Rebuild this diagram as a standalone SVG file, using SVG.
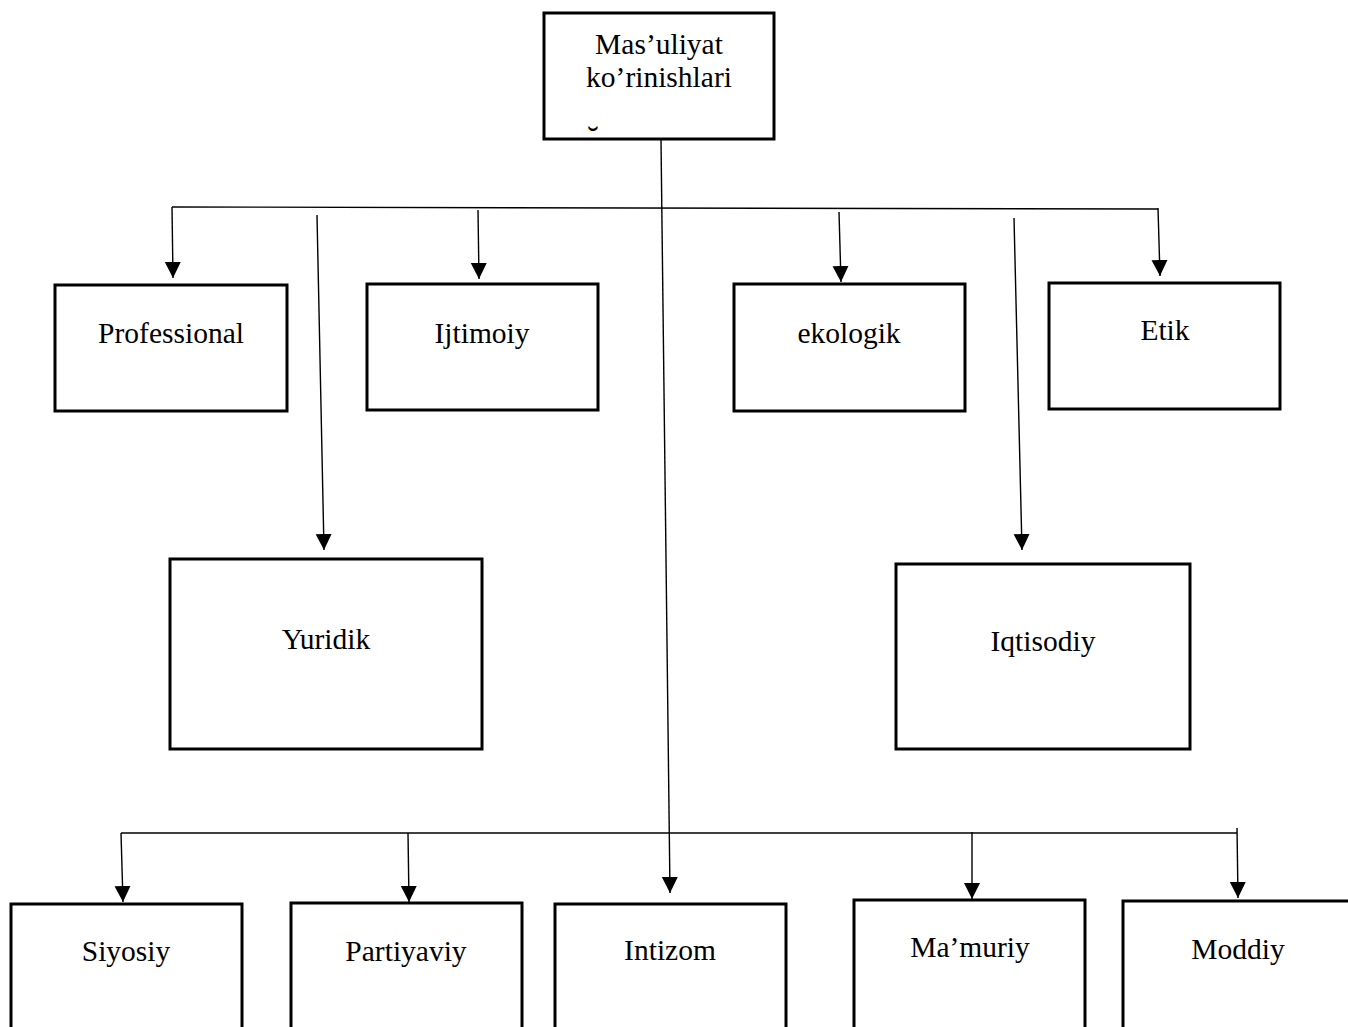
<svg xmlns="http://www.w3.org/2000/svg" width="1348" height="1027" viewBox="0 0 1348 1027">
  <style>
    .box { fill: #ffffff; stroke: #000000; stroke-width: 3; }
    .lbl { font-family: "Liberation Serif", "Times New Roman", serif; font-size: 29.5px; fill: #000000; text-anchor: middle; }
    .ln { fill: none; stroke: #000000; stroke-width: 1.4; }
    .arr { fill: none; stroke: #000000; stroke-width: 1.4; marker-end: url(#head); }
  </style>
  <defs>
    <marker id="head" markerUnits="userSpaceOnUse" markerWidth="18" markerHeight="18" viewBox="0 0 18 18" refX="16" refY="9" orient="auto">
      <path d="M0,1 L16,9 L0,17 Z" fill="#000000"/>
    </marker>
  </defs>

  <rect width="1348" height="1027" fill="#ffffff"/>

  <!-- connectors -->
  <g id="connectors">
    <line class="ln" x1="172" y1="207" x2="1158" y2="209"/>
    <line class="ln" x1="121" y1="833" x2="1237" y2="833"/>
    <line class="arr" x1="661" y1="140" x2="670" y2="893"/>
    <line class="arr" x1="172" y1="207" x2="173" y2="278"/>
    <line class="arr" x1="317" y1="215" x2="324" y2="550"/>
    <line class="arr" x1="478" y1="210" x2="479" y2="279"/>
    <line class="arr" x1="839" y1="212" x2="841" y2="282"/>
    <line class="arr" x1="1014" y1="218" x2="1022" y2="550"/>
    <line class="arr" x1="1158" y1="208" x2="1160" y2="276"/>
    <line class="arr" x1="121" y1="833" x2="123" y2="902"/>
    <line class="arr" x1="408" y1="833" x2="409" y2="902"/>
    <line class="arr" x1="972" y1="832" x2="972" y2="899"/>
    <line class="arr" x1="1237" y1="828" x2="1238" y2="898"/>
  </g>

  <!-- root -->
  <g id="node-root">
    <rect class="box" x="544" y="13" width="230" height="126"/>
    <text class="lbl" x="659" y="54">Mas’uliyat</text>
    <text class="lbl" x="659" y="87">ko’rinishlari</text>
    <text class="lbl" x="593" y="150" style="font-size:34px">˘</text>
  </g>

  <!-- first tier -->
  <g id="node-professional">
    <rect class="box" x="55" y="285" width="232" height="126"/>
    <text class="lbl" x="171" y="343">Professional</text>
  </g>
  <g id="node-ijtimoiy">
    <rect class="box" x="367" y="284" width="231" height="126"/>
    <text class="lbl" x="482" y="343">Ijtimoiy</text>
  </g>
  <g id="node-ekologik">
    <rect class="box" x="734" y="284" width="231" height="127"/>
    <text class="lbl" x="849" y="343">ekologik</text>
  </g>
  <g id="node-etik">
    <rect class="box" x="1049" y="283" width="231" height="126"/>
    <text class="lbl" x="1165" y="340">Etik</text>
  </g>
  <g id="node-yuridik">
    <rect class="box" x="170" y="559" width="312" height="190"/>
    <text class="lbl" x="326" y="649">Yuridik</text>
  </g>
  <g id="node-iqtisodiy">
    <rect class="box" x="896" y="564" width="294" height="185"/>
    <text class="lbl" x="1043" y="651">Iqtisodiy</text>
  </g>

  <!-- second tier -->
  <g id="node-siyosiy">
    <rect class="box" x="11" y="904" width="231" height="140"/>
    <text class="lbl" x="126" y="961">Siyosiy</text>
  </g>
  <g id="node-partiyaviy">
    <rect class="box" x="291" y="903" width="231" height="140"/>
    <text class="lbl" x="406" y="961">Partiyaviy</text>
  </g>
  <g id="node-intizom">
    <rect class="box" x="555" y="904" width="231" height="140"/>
    <text class="lbl" x="670" y="960">Intizom</text>
  </g>
  <g id="node-mamuriy">
    <rect class="box" x="854" y="900" width="231" height="140"/>
    <text class="lbl" x="970" y="957">Ma’muriy</text>
  </g>
  <g id="node-moddiy">
    <rect class="box" x="1123" y="901" width="240" height="140"/>
    <text class="lbl" x="1238" y="959">Moddiy</text>
  </g>
</svg>
